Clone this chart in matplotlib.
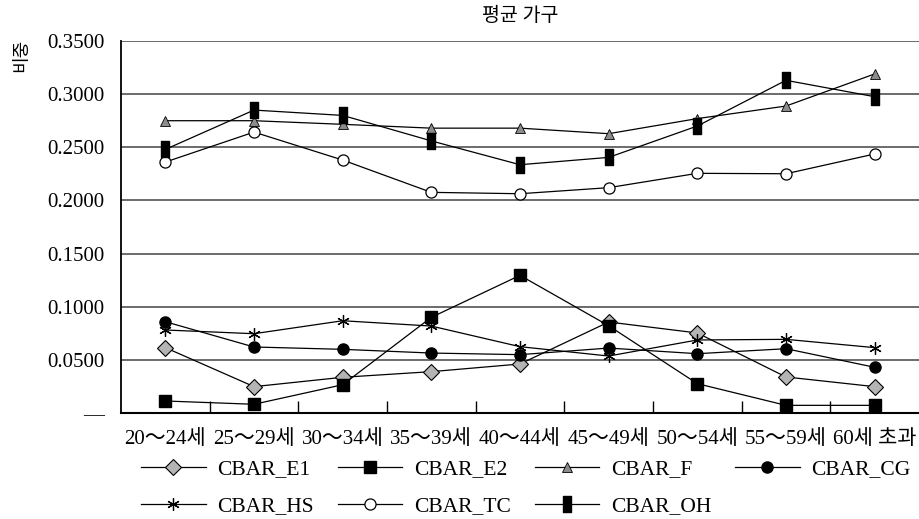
import numpy as np
import matplotlib
matplotlib.use('Agg')
from matplotlib import pyplot as plt
from matplotlib.path import Path
from matplotlib.ticker import FixedLocator, FuncFormatter

plt.rcParams['font.family'] = ['Liberation Serif', 'Noto Sans CJK KR']

# 데이터
age_groups = ['20～24세', '25～29세', '30～34세', '35～39세', '40～44세',
              '45～49세', '50～54세', '55～59세', '60세 초과']
cbar_e1 = [0.0615, 0.0248, 0.0336, 0.0389, 0.0461, 0.0856, 0.0753, 0.0339, 0.0248]
cbar_e2 = [0.0113, 0.0082, 0.0266, 0.0900, 0.1295, 0.0821, 0.0276, 0.0072, 0.0072]
cbar_f = [0.2750, 0.2750, 0.2716, 0.2680, 0.2680, 0.2628, 0.2770, 0.2888, 0.3190]
cbar_cg = [0.0859, 0.0621, 0.0599, 0.0564, 0.0549, 0.0611, 0.0558, 0.0605, 0.0430]
cbar_hs = [0.0781, 0.0746, 0.0868, 0.0818, 0.0624, 0.0536, 0.0687, 0.0693, 0.0615]
cbar_tc = [0.2361, 0.2643, 0.2380, 0.2076, 0.2063, 0.2120, 0.2255, 0.2251, 0.2437]
cbar_oh = [0.2480, 0.2850, 0.2800, 0.2560, 0.2336, 0.2405, 0.2700, 0.3130, 0.2976]

# 세로 직사각형 마커 (CBAR_OH)
bar_marker = Path([(-0.28, -0.5), (0.28, -0.5), (0.28, 0.5), (-0.28, 0.5), (-0.28, -0.5)],
                  [Path.MOVETO, Path.LINETO, Path.LINETO, Path.LINETO, Path.CLOSEPOLY])

series = [
    ('CBAR_E1', cbar_e1, dict(marker='D', ms=8, mfc='#b4b4b4', mec='black', mew=0.8)),
    ('CBAR_E2', cbar_e2, dict(marker='s', ms=8, mfc='black', mec='black')),
    ('CBAR_F', cbar_f, dict(marker='^', ms=7, mfc='#8c8c8c', mec='black', mew=0.6)),
    ('CBAR_CG', cbar_cg, dict(marker='o', ms=8, mfc='black', mec='black')),
    ('CBAR_HS', cbar_hs, dict(marker=(6, 2, 0), ms=9, mfc='black', mec='black', mew=0.9)),
    ('CBAR_TC', cbar_tc, dict(marker='o', ms=8, mfc='white', mec='black', mew=0.9)),
    ('CBAR_OH', cbar_oh, dict(marker=bar_marker, ms=11, mfc='black', mec='black')),
]

fig = plt.figure(figsize=(9.19, 5.19), dpi=100)
ax = fig.add_axes([121 / 919, 1 - 413 / 519, 1 - 121 / 919, (413 - 41) / 519])

x = np.arange(len(age_groups))
lines = {}
for name, vals, style in series:
    lines[name], = ax.plot(x, vals, color='black', linewidth=0.9, label=name, **style)

ax.set_xlim(-0.5, len(age_groups) - 0.5)
ax.set_ylim(0, 0.35)

# 격자선
ax.yaxis.set_major_locator(FixedLocator(np.arange(0, 0.351, 0.05)))
ax.yaxis.set_major_formatter(FuncFormatter(lambda v, p: '—' if abs(v) < 1e-9 else '%.4f' % v))
ax.grid(axis='y', color='#444444', linewidth=1.1)
ax.set_axisbelow(True)

ax.set_xticks(x)
ax.set_xticklabels(age_groups)
ax.set_xticks(np.arange(0.5, len(age_groups) - 0.5), minor=True)
ax.tick_params(axis='x', which='major', length=0, pad=12, labelsize=15)
ax.tick_params(axis='x', which='minor', direction='in', length=9, width=1.0)
ax.tick_params(axis='y', length=0, pad=12, labelsize=15)

for s in ['top', 'right']:
    ax.spines[s].set_visible(False)
ax.spines['left'].set_linewidth(1.3)
ax.spines['bottom'].set_linewidth(1.5)

fig.text(520 / 919, 1 - 16 / 519, '평균 가구', ha='center', va='center', fontsize=14)
fig.text(22 / 919, 1 - 55 / 519, '비중', rotation=90, ha='center', va='center', fontsize=13)

# 범례: 행 우선 배치가 되도록 순서 재배열
order = ['CBAR_E1', 'CBAR_HS', 'CBAR_E2', 'CBAR_TC', 'CBAR_F', 'CBAR_OH', 'CBAR_CG']
fig.legend([lines[n] for n in order], order, loc='upper left',
           bbox_to_anchor=(141 / 919, 1 - 459 / 519), ncol=4,
           frameon=False, fontsize=15.5, handlelength=3.0, handletextpad=0.55,
           columnspacing=1.1, labelspacing=0.8, borderpad=0, borderaxespad=0)

plt.savefig('out.png', dpi=100)
